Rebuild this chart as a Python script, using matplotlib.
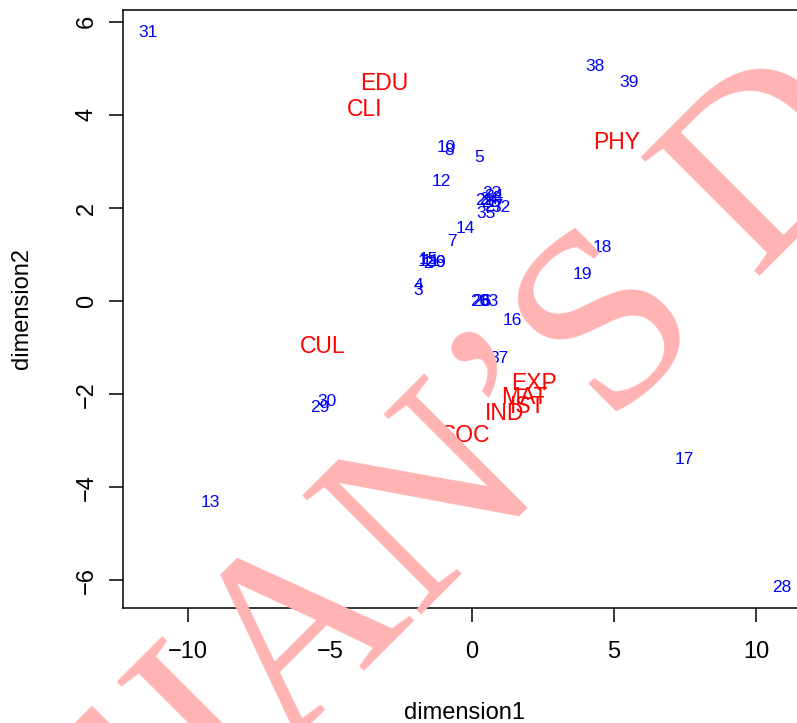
import matplotlib.pyplot as plt

plt.rcParams['font.family'] = ['Liberation Sans', 'DejaVu Sans']

# observation labels (blue) and their coordinates
obs_labels = ["31", "38", "39", "10", "8", "5", "12",
              "23", "34", "24", "21", "25", "27", "32", "35",
              "14", "7", "1", "15", "11", "2", "36", "9",
              "4", "3", "20", "26", "6", "33",
              "16", "37", "30", "29", "13", "17", "28", "18", "19"]
obs_x = [-11.41, 4.33, 5.53, -0.92, -0.81, 0.25, -1.09,
         0.70, 0.77, 0.60, 0.46, 0.67, 0.77, 1.02, 0.49,
         -0.25, -0.70, -1.73, -1.55, -1.44, -1.55, -1.27, -1.13,
         -1.90, -1.90, 0.28, 0.35, 0.42, 0.60,
         1.41, 0.95, -5.11, -5.35, -9.23, 7.46, 10.92, 4.58, 3.87]
obs_y = [5.76, 5.03, 4.69, 3.29, 3.23, 3.08, 2.56,
         2.32, 2.24, 2.19, 2.15, 2.11, 2.04, 2.02, 1.87,
         1.55, 1.27, 0.84, 0.90, 0.86, 0.80, 0.82, 0.82,
         0.34, 0.22, 0.0, 0.0, 0.0, 0.0,
         -0.41, -1.23, -2.15, -2.28, -4.32, -3.40, -6.15, 1.14, 0.58]

# variable labels (red)
var_labels = ["EDU", "CLI", "PHY", "CUL", "EXP", "MAT", "IST", "IND", "SOC"]
var_x = [-3.10, -3.77, 5.11, -5.25, 2.18, 1.83, 1.97, 1.13, -0.21]
var_y = [4.67, 4.11, 3.40, -0.97, -1.76, -2.06, -2.26, -2.41, -2.88]

fig = plt.figure(figsize=(7.97, 7.23), dpi=100)
ax = fig.add_axes([0.1543, 0.1591, 0.8655, 0.8264])
ax.set_xlim(-12.29, 12.0)
ax.set_ylim(-6.59, 6.24)

for lab, x, y in zip(obs_labels, obs_x, obs_y):
    ax.text(x, y, lab, color='blue', fontsize=12.5, ha='center', va='center')
for lab, x, y in zip(var_labels, var_x, var_y):
    ax.text(x, y, lab, color='red', fontsize=16.5, ha='center', va='center')

ax.set_xticks([-10, -5, 0, 5, 10])
ax.set_yticks([-6, -4, -2, 0, 2, 4, 6])
ax.tick_params(direction='out', length=10, width=1.1, labelsize=17, color='black')
ax.tick_params(axis='x', pad=14)
ax.tick_params(axis='y', pad=8)
plt.setp(ax.get_yticklabels(), rotation=90, va='center')
for sp in ax.spines.values():
    sp.set_linewidth(1.1)

fig.text(0.583, 0.014, "dimension1", fontsize=17, ha='center', va='center')
fig.text(0.028, 0.573, "dimension2", fontsize=17, ha='center', va='center', rotation=90)

# watermark
fig.text(0.640, 0.273, "STATJAN\u2019S DATA", fontsize=185, family='Liberation Serif',
         color='#FFB3B3', rotation=45, rotation_mode='anchor',
         ha='center', va='baseline', zorder=10)

fig.savefig('out.png', dpi=100)
